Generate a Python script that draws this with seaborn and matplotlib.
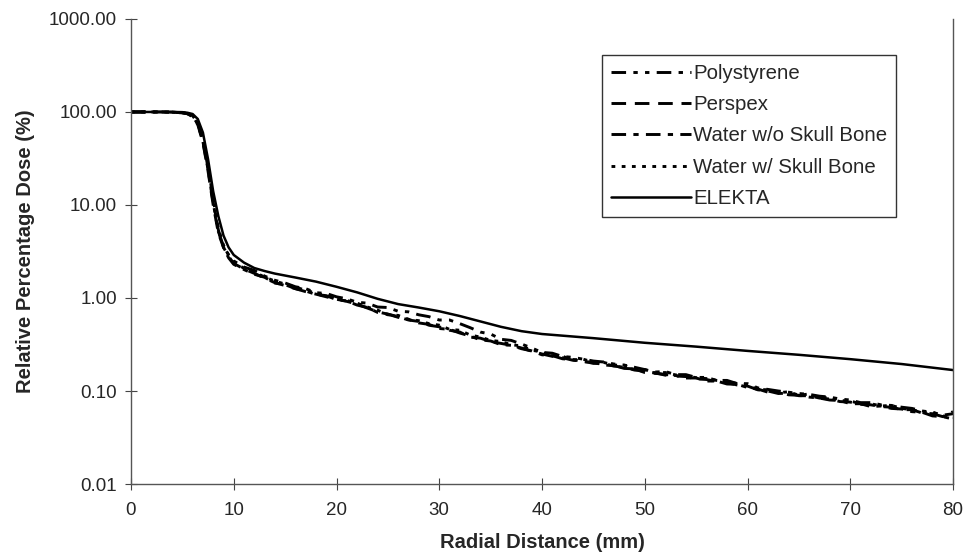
import matplotlib
matplotlib.use("Agg")
import matplotlib.pyplot as plt
import matplotlib.ticker as mticker
import seaborn as sns

sns.set_style("ticks")
plt.rcParams["font.family"] = ["Liberation Sans", "DejaVu Sans"]

# radial distance grid (mm) for the measured profiles
x_head = [0, 1, 2, 3, 4, 5, 5.5, 6, 6.5, 7, 7.5, 8, 8.5, 9, 9.5]
x_tail = list(range(10, 81))
x_meas = x_head + x_tail

# relative percentage dose (%) - measured curves
polystyrene = [100, 100, 100, 100, 99.5, 98, 96, 90, 74, 48, 24, 10.5, 5.2, 3.6, 2.9,
               2.5, 2.15, 1.98, 1.72, 1.55, 1.45, 1.32, 1.26, 1.14, 1.12,
               1.03, 0.98, 0.9, 0.88, 0.8, 0.79, 0.72, 0.71, 0.66, 0.63,
               0.58, 0.58, 0.53, 0.48, 0.43, 0.41, 0.36, 0.35, 0.32, 0.29,
               0.26, 0.255, 0.235, 0.23, 0.22, 0.21, 0.205, 0.195, 0.19, 0.18,
               0.17, 0.16, 0.162, 0.15, 0.15, 0.14, 0.14, 0.13, 0.13, 0.12,
               0.12, 0.108, 0.104, 0.1, 0.097, 0.094, 0.092, 0.088, 0.086, 0.082,
               0.08, 0.075, 0.075, 0.071, 0.07, 0.067, 0.065, 0.061, 0.059, 0.055,
               0.057]
perspex = [100, 100, 100, 100, 99.5, 98, 95.5, 89, 73, 47, 23, 10, 5.0, 3.5, 2.8,
           2.35, 2.05, 1.84, 1.64, 1.46, 1.36, 1.26, 1.17, 1.1, 1.03,
           0.97, 0.92, 0.86, 0.78, 0.71, 0.67, 0.63, 0.58, 0.56, 0.51,
           0.49, 0.45, 0.43, 0.38, 0.37, 0.34, 0.325, 0.31, 0.29, 0.268,
           0.25, 0.236, 0.228, 0.214, 0.21, 0.198, 0.198, 0.185, 0.18, 0.168,
           0.163, 0.155, 0.151, 0.145, 0.143, 0.135, 0.133, 0.126, 0.123, 0.116,
           0.113, 0.103, 0.1, 0.094, 0.095, 0.089, 0.089, 0.084, 0.082, 0.077,
           0.076, 0.072, 0.071, 0.068, 0.067, 0.063, 0.063, 0.058, 0.057, 0.053,
           0.06]
water_no_bone = [100, 100, 100, 100, 99.5, 98, 96, 90, 75, 50, 25, 11, 5.4, 3.5, 2.7,
                 2.3, 2.02, 1.8, 1.67, 1.45, 1.39, 1.26, 1.19, 1.09, 1.06,
                 0.96, 0.93, 0.84, 0.79, 0.7, 0.67, 0.62, 0.59, 0.54, 0.52,
                 0.47, 0.46, 0.42, 0.39, 0.355, 0.345, 0.315, 0.31, 0.285, 0.27,
                 0.245, 0.24, 0.222, 0.218, 0.206, 0.204, 0.19, 0.188, 0.175, 0.173,
                 0.158, 0.157, 0.148, 0.147, 0.138, 0.138, 0.128, 0.128, 0.119, 0.118,
                 0.109, 0.105, 0.097, 0.097, 0.091, 0.09, 0.086, 0.084, 0.08, 0.079,
                 0.073, 0.073, 0.068, 0.069, 0.065, 0.064, 0.06, 0.059, 0.054, 0.053,
                 0.05]
water_bone = [100, 100, 100, 100, 99.5, 98, 96, 91, 76, 51, 26, 11.5, 5.6, 3.7, 2.9,
              2.45, 2.08, 1.9, 1.68, 1.52, 1.41, 1.31, 1.21, 1.13, 1.06,
              1.01, 0.94, 0.88, 0.8, 0.74, 0.66, 0.65, 0.59, 0.57, 0.53,
              0.51, 0.46, 0.45, 0.4, 0.38, 0.35, 0.34, 0.315, 0.305, 0.275,
              0.262, 0.24, 0.236, 0.216, 0.22, 0.204, 0.203, 0.19, 0.189, 0.172,
              0.17, 0.156, 0.158, 0.149, 0.146, 0.139, 0.136, 0.13, 0.127, 0.12,
              0.116, 0.104, 0.103, 0.096, 0.098, 0.09, 0.093, 0.085, 0.085, 0.079,
              0.078, 0.073, 0.073, 0.069, 0.07, 0.065, 0.063, 0.059, 0.059, 0.054,
              0.052]

# ELEKTA planning system profile
x_elekta = [0, 2, 4, 5, 5.5, 6, 6.5, 7, 7.5, 8, 8.5, 9, 9.5, 10, 11, 12, 13, 14, 16, 18,
            20, 22, 24, 26, 28, 30, 32, 34, 36, 38, 40, 45, 50, 55, 60, 65, 70, 75, 80]
elekta = [100, 100, 100, 99.5, 98, 95, 84, 60, 31, 14, 7.6, 4.7, 3.5, 2.9, 2.4, 2.1, 1.95, 1.83, 1.66, 1.5,
          1.32, 1.15, 0.98, 0.86, 0.79, 0.72, 0.64, 0.56, 0.49, 0.44,
          0.41, 0.37, 0.33, 0.30, 0.27, 0.245, 0.22, 0.195, 0.168]

y_ticks = [0.01, 0.1, 1, 10, 100, 1000]
x_ticks = [0, 10, 20, 30, 40, 50, 60, 70, 80]

fig = plt.figure(figsize=(9.66, 5.57), dpi=100)
ax = fig.add_axes([0.1356, 0.131, 0.851, 0.835])

series = [
    ("Polystyrene", x_meas, polystyrene, (0, (5, 2.5, 1.5, 2.5, 1.5, 2.5)), 2.1),
    ("Perspex", x_meas, perspex, (0, (5, 3)), 2.1),
    ("Water w/o Skull Bone", x_meas, water_no_bone, (0, (5, 2.5, 1.8, 2.5)), 2.1),
    ("Water w/ Skull Bone", x_meas, water_bone, (0, (1.3, 2.2)), 2.1),
    ("ELEKTA", x_elekta, elekta, "-", 1.8),
]
for name, xs, ys, ls, lw in series:
    sns.lineplot(x=xs, y=ys, ax=ax, color="black", linestyle=ls, linewidth=lw, label=name)

ax.set_yscale("log")
ax.set_ylim(0.01, 1000)
ax.set_xlim(0, 80)
ax.set_yticks(y_ticks)
ax.yaxis.set_major_formatter(mticker.FuncFormatter(lambda v, p: f"{v:.2f}"))
ax.yaxis.set_minor_locator(mticker.NullLocator())
ax.set_xticks(x_ticks)

ax.tick_params(axis="both", direction="inout", length=8, width=0.8, color="#444444",
               labelsize=13.5)
ax.tick_params(axis="x", pad=9)
ax.tick_params(axis="y", pad=6)
for side in ["left", "bottom", "right"]:
    ax.spines[side].set_color("#555555")
    ax.spines[side].set_linewidth(1.0)
ax.spines["top"].set_visible(False)

ax.set_xlabel("Radial Distance (mm)", fontsize=14.5, fontweight="bold", labelpad=10)
ax.set_ylabel("Relative Percentage Dose (%)", fontsize=14.5, fontweight="bold", labelpad=10)

leg = ax.legend(loc="upper left", bbox_to_anchor=(0.573, 0.923), frameon=True, fancybox=False,
                edgecolor="black", fontsize=14.7, handlelength=3.9, handletextpad=0.1,
                labelspacing=0.6, borderpad=0.45, borderaxespad=0)
leg.get_frame().set_linewidth(1.0)

fig.savefig("out.png", dpi=100)
